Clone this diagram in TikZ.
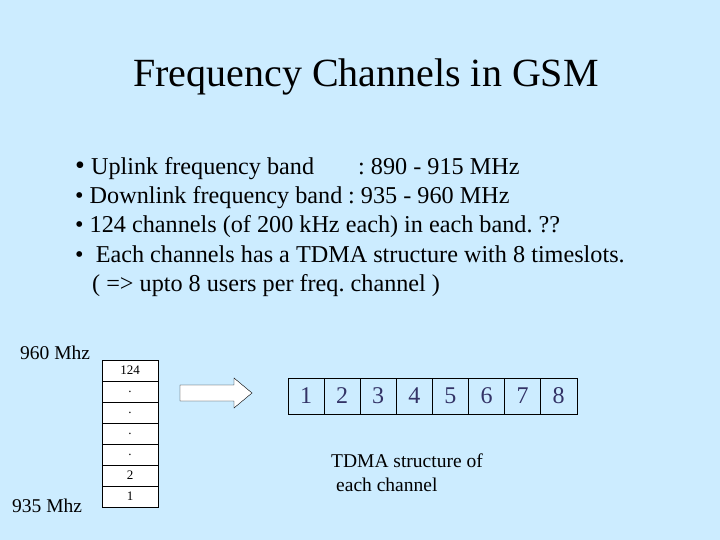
\documentclass[tikz,border=0pt]{standalone}
\usepackage{fontspec}
\setmainfont{Liberation Serif}
\usetikzlibrary{positioning, shapes.arrows}
\definecolor{slidebg}{HTML}{CCECFF}
\definecolor{slotnavy}{HTML}{333366}
\frenchspacing

\begin{document}
\begin{tikzpicture}[x=1pt, y=-1pt,
    line/.style={anchor=base west, inner sep=0pt, font=\fontsize{24.2}{24}\selectfont},
    side/.style={anchor=base west, inner sep=0pt, font=\fontsize{19.5}{20}\selectfont},
    chan/.style={draw=black, fill=white, minimum width=56pt, minimum height=21pt, inner sep=0pt, font=\fontsize{13}{13}\selectfont},
    slot/.style={draw=black, minimum width=36.1pt, minimum height=36pt, inner sep=0pt, text=slotnavy, font=\fontsize{24}{24}\selectfont}]
      \fill[slidebg] (0,0) rectangle (720,540);
      \useasboundingbox (0,0) rectangle (720,540);

      \node[font=\fontsize{40}{40}\selectfont] (title) at (366,77) {Frequency Channels in GSM};

      \node[line] (b1) at (75,175) {\fontsize{28}{28}\selectfont•\fontsize{24.2}{24}\selectfont{} Uplink frequency band};
      \node[line] (b1v) at (358,175) {: 890 - 915 MHz};
      \node[line] (b2) at (75,204) {• Downlink frequency band};
      \node[line] (b2v) at (348,204) {: 935 - 960 MHz};
      \node[line] (b3) at (75,233) {• 124 channels (of 200 kHz each) in each band. ??};
      \node[line] (b4) at (75,262) {•~~Each channels has a TDMA structure with 8 timeslots.};
      \node[line] (b5) at (92,291) {( => upto 8 users per freq. channel )};

      \node[side] (top) at (20,359) {960 Mhz};
      \node[side] (bot) at (12,512) {935 Mhz};

      % channel stack
      \foreach \lab [count=\i from 0] in {124,.,.,.,.,2,1}
        \node[chan] (c\i) at (130,{370.5+21*\i}) {\lab};

      % arrow towards the slots
      \coordinate (arr) at (180,393);
      \draw[fill=white] (arr) ++(0,-8) -- ++(54,0) -- ++(0,-7) -- ++(18,15)
        -- ++(-18,15) -- ++(0,-7) -- ++(-54,0) -- cycle;

      % timeslots
      \foreach \n in {1,...,8}
        \node[slot] (s\n) at ({306+36.1*(\n-1)},396) {\n};

      \node[side] (cap1) at (331,467) {TDMA structure of};
      \node[side] (cap2) at (336,491) {each channel};
\end{tikzpicture}
\end{document}
